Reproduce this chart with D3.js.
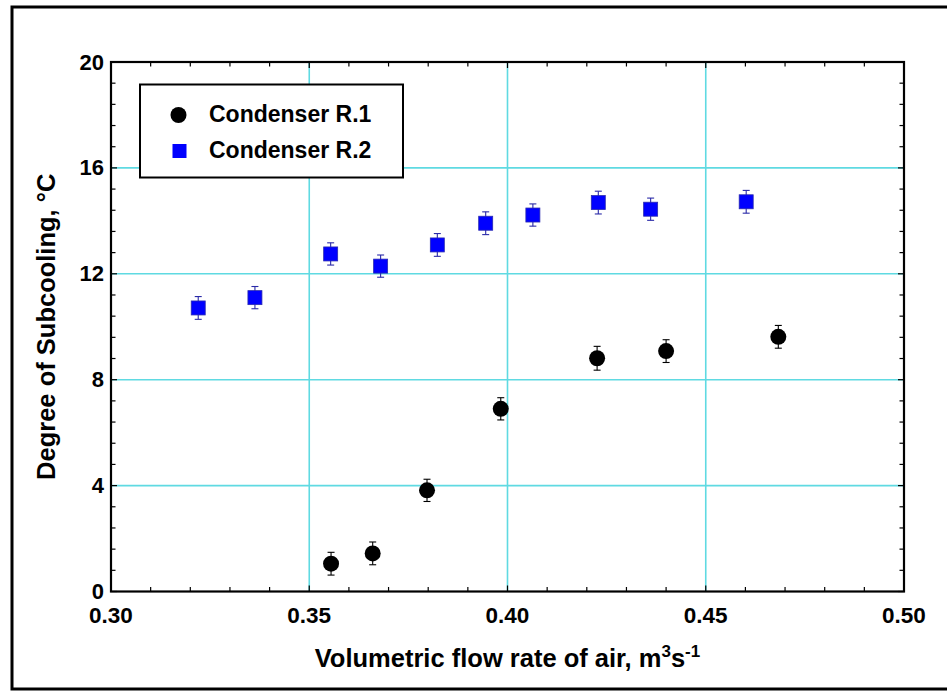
<!DOCTYPE html>
<html>
<head>
<meta charset="utf-8">
<script src="https://cdn.jsdelivr.net/npm/d3@7"></script>
<style>
  html, body { margin: 0; padding: 0; background: #fff; }
  svg { display: block; }
  text { font-family: "Liberation Sans", Arial, sans-serif; font-weight: bold; fill: #000; }
</style>
</head>
<body>
<svg id="chart" width="947" height="692"></svg>
<script>
// Condenser R.1 (circles)
const r1Flow = [0.3555, 0.3660, 0.3797, 0.3983, 0.4226, 0.4400, 0.4683];
const r1Subcool = [1.05, 1.44, 3.82, 6.90, 8.81, 9.08, 9.62];
const r1Err = [0.43, 0.43, 0.42, 0.42, 0.45, 0.43, 0.43];

// Condenser R.2 (squares)
const r2Flow = [0.3220, 0.3363, 0.3554, 0.3680, 0.3823, 0.3945, 0.4064, 0.4229, 0.4361, 0.4602];
const r2Subcool = [10.71, 11.10, 12.75, 12.29, 13.09, 13.91, 14.22, 14.69, 14.44, 14.72];
const r2Err = [0.43, 0.42, 0.42, 0.42, 0.43, 0.43, 0.42, 0.43, 0.42, 0.43];

// Axis ticks
const xMajorTicks = [0.30, 0.35, 0.40, 0.45, 0.50];
const xTickLabels = ["0.30", "0.35", "0.40", "0.45", "0.50"];
const yMajorTicks = [0, 4, 8, 12, 16, 20];
const yTickLabels = ["0", "4", "8", "12", "16", "20"];
const seriesNames = ["Condenser R.1", "Condenser R.2"];

const svg = d3.select("#chart");
const W = 947, H = 692;
const m = { left: 111, right: 904, top: 62, bottom: 591.5 };

const x = d3.scaleLinear().domain([0.30, 0.50]).range([m.left, m.right]);
const y = d3.scaleLinear().domain([0, 20]).range([m.bottom, m.top]);

const gridColor = "#5fdae2";
const blue = "#0000ff";

// white page with heavy outer frame
svg.append("rect").attr("width", W).attr("height", H).attr("fill", "#fff");
svg.append("rect")
  .attr("x", 12).attr("y", 7).attr("width", W + 10).attr("height", 682)
  .attr("fill", "none").attr("stroke", "#000").attr("stroke-width", 3);

// grid lines at inner major ticks
const grid = svg.append("g");
grid.selectAll("line.gx").data(xMajorTicks.slice(1, -1)).join("line")
  .attr("x1", d => x(d)).attr("x2", d => x(d))
  .attr("y1", m.top).attr("y2", m.bottom)
  .attr("stroke", gridColor).attr("stroke-width", 1.6);
grid.selectAll("line.gy").data(yMajorTicks.slice(1, -1)).join("line")
  .attr("x1", m.left).attr("x2", m.right)
  .attr("y1", d => y(d)).attr("y2", d => y(d))
  .attr("stroke", gridColor).attr("stroke-width", 1.6);

// inward ticks on all four sides
const xMinor = d3.range(0, 21).map(i => 0.30 + i * 0.01);
const yMinor = d3.range(0, 26).map(i => i * 0.8);
function isMajorX(v) { return Math.abs(Math.round(v * 20) - v * 20) < 1e-6; }
function isMajorY(v) { return Math.abs(Math.round(v / 4) - v / 4) < 1e-6; }

const ticks = svg.append("g").attr("stroke", "#000").attr("stroke-width", 1.2);
xMinor.forEach(v => {
  const len = isMajorX(v) ? 6 : 4.5;
  ticks.append("line").attr("x1", x(v)).attr("x2", x(v)).attr("y1", m.bottom).attr("y2", m.bottom - len);
  ticks.append("line").attr("x1", x(v)).attr("x2", x(v)).attr("y1", m.top).attr("y2", m.top + len);
});
yMinor.forEach(v => {
  const len = isMajorY(v) ? 6 : 4.5;
  ticks.append("line").attr("y1", y(v)).attr("y2", y(v)).attr("x1", m.left).attr("x2", m.left + len);
  ticks.append("line").attr("y1", y(v)).attr("y2", y(v)).attr("x1", m.right).attr("x2", m.right - len);
});

// plot frame
svg.append("rect")
  .attr("x", m.left).attr("y", m.top)
  .attr("width", m.right - m.left).attr("height", m.bottom - m.top)
  .attr("fill", "none").attr("stroke", "#000").attr("stroke-width", 2.2);

// tick labels
svg.append("g").selectAll("text").data(xMajorTicks).join("text")
  .attr("x", d => x(d)).attr("y", 623)
  .attr("text-anchor", "middle").attr("font-size", 22.5)
  .text((d, i) => xTickLabels[i]);
svg.append("g").selectAll("text").data(yMajorTicks).join("text")
  .attr("x", 104).attr("y", d => y(d) + 7.5)
  .attr("text-anchor", "end").attr("font-size", 22)
  .text((d, i) => yTickLabels[i]);

// axis titles
const xt = svg.append("text")
  .attr("x", (m.left + m.right) / 2).attr("y", 667)
  .attr("text-anchor", "middle").attr("font-size", 25.5);
xt.append("tspan").text("Volumetric flow rate of air, m");
xt.append("tspan").attr("font-size", 17).attr("dy", -10).text("3");
xt.append("tspan").attr("dy", 10).text("s");
xt.append("tspan").attr("font-size", 17).attr("dy", -10).text("-1");

svg.append("text")
  .attr("transform", `translate(55,${(m.top + m.bottom) / 2}) rotate(-90)`)
  .attr("text-anchor", "middle").attr("font-size", 25.5)
  .text("Degree of Subcooling, \u00B0C");

// data points with error bars
const r2 = r2Flow.map((v, i) => ({ x: v, y: r2Subcool[i], e: r2Err[i] }));
const r1 = r1Flow.map((v, i) => ({ x: v, y: r1Subcool[i], e: r1Err[i] }));

function errorBars(g, data, color) {
  const eb = g.selectAll("g").data(data).join("g").attr("stroke", color).attr("stroke-width", 1.1);
  eb.append("line").attr("x1", d => x(d.x)).attr("x2", d => x(d.x))
    .attr("y1", d => y(d.y + d.e)).attr("y2", d => y(d.y - d.e));
  eb.append("line").attr("x1", d => x(d.x) - 3.5).attr("x2", d => x(d.x) + 3.5)
    .attr("y1", d => y(d.y + d.e)).attr("y2", d => y(d.y + d.e));
  eb.append("line").attr("x1", d => x(d.x) - 3.5).attr("x2", d => x(d.x) + 3.5)
    .attr("y1", d => y(d.y - d.e)).attr("y2", d => y(d.y - d.e));
}

errorBars(svg.append("g"), r2, "#2a2aa8");
svg.append("g").selectAll("rect").data(r2).join("rect")
  .attr("x", d => x(d.x) - 7).attr("y", d => y(d.y) - 7)
  .attr("width", 14).attr("height", 14)
  .attr("fill", blue).attr("stroke", "#2a2ab0").attr("stroke-width", 0.8);

errorBars(svg.append("g"), r1, "#000");
svg.append("g").selectAll("circle").data(r1).join("circle")
  .attr("cx", d => x(d.x)).attr("cy", d => y(d.y)).attr("r", 8)
  .attr("fill", "#000");

// legend
const lg = svg.append("g");
lg.append("rect").attr("x", 140).attr("y", 84.5).attr("width", 263).attr("height", 93)
  .attr("fill", "#fff").attr("stroke", "#000").attr("stroke-width", 2);
lg.append("circle").attr("cx", 178.5).attr("cy", 115).attr("r", 8).attr("fill", "#000");
lg.append("rect").attr("x", 172.5).attr("y", 144).attr("width", 14).attr("height", 14).attr("fill", blue);
lg.append("text").attr("x", 209).attr("y", 122).attr("font-size", 23).text(seriesNames[0]);
lg.append("text").attr("x", 209).attr("y", 158).attr("font-size", 23).text(seriesNames[1]);
</script>
</body>
</html>
